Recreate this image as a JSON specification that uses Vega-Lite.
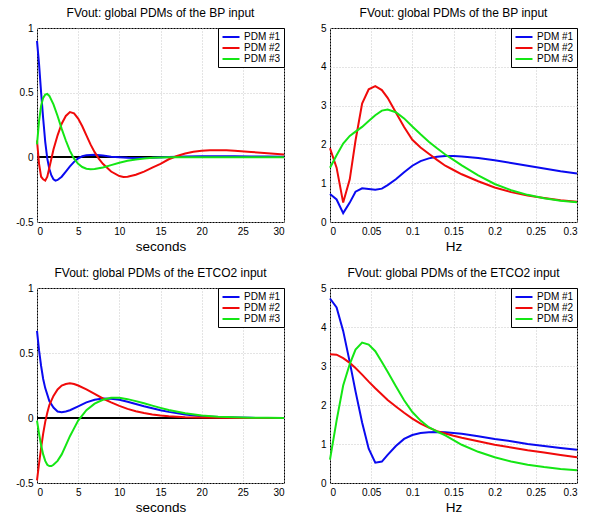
{
  "$schema": "https://vega.github.io/schema/vega-lite/v6.json",
  "padding": {"left": 15, "top": 6, "right": 4, "bottom": 0},
  "background": "white",
  "config": {
    "font": "Liberation Sans",
    "view": {"stroke": "black", "strokeWidth": 1},
    "axis": {"domain": false, "ticks": false, "grid": true, "gridColor": "#c8c8c8", "gridDash": [1, 2], "labelFont": "Liberation Sans", "labelFontSize": 10, "labelColor": "black", "labelPadding": 4, "titleFont": "Liberation Sans", "titleFontSize": 13.5, "titleFontWeight": "normal", "titleColor": "black", "titlePadding": 3},
    "title": {"font": "Liberation Sans", "fontSize": 12, "fontWeight": "normal", "color": "black", "offset": 3},
    "legend": {"title": null, "orient": "top-right", "offset": 0, "strokeColor": "black", "fillColor": "white", "padding": 3, "symbolType": "M-1.7,0L1.7,0", "symbolStrokeWidth": 2, "symbolSize": 100, "symbolOffset": 4, "labelFont": "Liberation Sans", "labelFontSize": 10, "labelColor": "black", "rowPadding": 0, "labelOffset": 7}
  },
  "datasets": {
    "bpT": [
      {"s":"PDM #1","x":0,"y":0.9},{"s":"PDM #1","x":0.25,"y":0.72},{"s":"PDM #1","x":0.5,"y":0.5},{"s":"PDM #1","x":0.75,"y":0.3},{"s":"PDM #1","x":1,"y":0.12},{"s":"PDM #1","x":1.25,"y":-0.01},{"s":"PDM #1","x":1.5,"y":-0.09},{"s":"PDM #1","x":1.75,"y":-0.14},{"s":"PDM #1","x":2,"y":-0.17},{"s":"PDM #1","x":2.25,"y":-0.18},{"s":"PDM #1","x":2.5,"y":-0.175},{"s":"PDM #1","x":3,"y":-0.15},{"s":"PDM #1","x":3.5,"y":-0.11},{"s":"PDM #1","x":4,"y":-0.07},{"s":"PDM #1","x":4.5,"y":-0.035},{"s":"PDM #1","x":5,"y":-0.008},{"s":"PDM #1","x":5.5,"y":0.008},{"s":"PDM #1","x":6,"y":0.017},{"s":"PDM #1","x":7,"y":0.02},{"s":"PDM #1","x":8,"y":0.015},{"s":"PDM #1","x":9,"y":0.005},{"s":"PDM #1","x":10,"y":0},{"s":"PDM #1","x":11,"y":-0.004},{"s":"PDM #1","x":12,"y":-0.005},{"s":"PDM #1","x":14,"y":-0.003},{"s":"PDM #1","x":16,"y":0.002},{"s":"PDM #1","x":18,"y":0.006},{"s":"PDM #1","x":20,"y":0.008},{"s":"PDM #1","x":22,"y":0.009},{"s":"PDM #1","x":24,"y":0.008},{"s":"PDM #1","x":26,"y":0.007},{"s":"PDM #1","x":28,"y":0.006},{"s":"PDM #1","x":30,"y":0.005},
      {"s":"PDM #2","x":0,"y":0.13},{"s":"PDM #2","x":0.25,"y":-0.05},{"s":"PDM #2","x":0.5,"y":-0.15},{"s":"PDM #2","x":0.75,"y":-0.17},{"s":"PDM #2","x":1,"y":-0.18},{"s":"PDM #2","x":1.25,"y":-0.15},{"s":"PDM #2","x":1.5,"y":-0.08},{"s":"PDM #2","x":2,"y":0.06},{"s":"PDM #2","x":2.5,"y":0.17},{"s":"PDM #2","x":3,"y":0.26},{"s":"PDM #2","x":3.5,"y":0.32},{"s":"PDM #2","x":4,"y":0.35},{"s":"PDM #2","x":4.5,"y":0.34},{"s":"PDM #2","x":5,"y":0.3},{"s":"PDM #2","x":5.5,"y":0.24},{"s":"PDM #2","x":6,"y":0.17},{"s":"PDM #2","x":6.5,"y":0.1},{"s":"PDM #2","x":7,"y":0.04},{"s":"PDM #2","x":7.5,"y":-0.01},{"s":"PDM #2","x":8,"y":-0.05},{"s":"PDM #2","x":9,"y":-0.11},{"s":"PDM #2","x":10,"y":-0.145},{"s":"PDM #2","x":10.5,"y":-0.152},{"s":"PDM #2","x":11,"y":-0.15},{"s":"PDM #2","x":12,"y":-0.135},{"s":"PDM #2","x":13,"y":-0.11},{"s":"PDM #2","x":14,"y":-0.08},{"s":"PDM #2","x":15,"y":-0.05},{"s":"PDM #2","x":16,"y":-0.015},{"s":"PDM #2","x":17,"y":0.01},{"s":"PDM #2","x":18,"y":0.03},{"s":"PDM #2","x":19,"y":0.043},{"s":"PDM #2","x":20,"y":0.05},{"s":"PDM #2","x":21,"y":0.054},{"s":"PDM #2","x":22,"y":0.055},{"s":"PDM #2","x":23,"y":0.054},{"s":"PDM #2","x":24,"y":0.05},{"s":"PDM #2","x":26,"y":0.042},{"s":"PDM #2","x":28,"y":0.032},{"s":"PDM #2","x":30,"y":0.022},
      {"s":"PDM #3","x":0,"y":0.1},{"s":"PDM #3","x":0.25,"y":0.28},{"s":"PDM #3","x":0.5,"y":0.4},{"s":"PDM #3","x":0.75,"y":0.46},{"s":"PDM #3","x":1,"y":0.485},{"s":"PDM #3","x":1.25,"y":0.49},{"s":"PDM #3","x":1.5,"y":0.475},{"s":"PDM #3","x":2,"y":0.41},{"s":"PDM #3","x":2.5,"y":0.32},{"s":"PDM #3","x":3,"y":0.22},{"s":"PDM #3","x":3.5,"y":0.13},{"s":"PDM #3","x":4,"y":0.05},{"s":"PDM #3","x":4.5,"y":-0.01},{"s":"PDM #3","x":5,"y":-0.05},{"s":"PDM #3","x":5.5,"y":-0.075},{"s":"PDM #3","x":6,"y":-0.088},{"s":"PDM #3","x":6.5,"y":-0.092},{"s":"PDM #3","x":7,"y":-0.09},{"s":"PDM #3","x":8,"y":-0.078},{"s":"PDM #3","x":9,"y":-0.06},{"s":"PDM #3","x":10,"y":-0.042},{"s":"PDM #3","x":11,"y":-0.027},{"s":"PDM #3","x":12,"y":-0.016},{"s":"PDM #3","x":13,"y":-0.009},{"s":"PDM #3","x":14,"y":-0.004},{"s":"PDM #3","x":15,"y":-0.001},{"s":"PDM #3","x":16,"y":0},{"s":"PDM #3","x":20,"y":0},{"s":"PDM #3","x":25,"y":0},{"s":"PDM #3","x":30,"y":0}
    ],
    "bpF": [
      {"s":"PDM #1","x":0,"y":0.72},{"s":"PDM #1","x":0.008,"y":0.58},{"s":"PDM #1","x":0.016,"y":0.23},{"s":"PDM #1","x":0.024,"y":0.5},{"s":"PDM #1","x":0.031,"y":0.78},{"s":"PDM #1","x":0.039,"y":0.87},{"s":"PDM #1","x":0.047,"y":0.85},{"s":"PDM #1","x":0.055,"y":0.83},{"s":"PDM #1","x":0.063,"y":0.86},{"s":"PDM #1","x":0.07,"y":0.95},{"s":"PDM #1","x":0.08,"y":1.1},{"s":"PDM #1","x":0.09,"y":1.28},{"s":"PDM #1","x":0.1,"y":1.45},{"s":"PDM #1","x":0.11,"y":1.57},{"s":"PDM #1","x":0.12,"y":1.64},{"s":"PDM #1","x":0.13,"y":1.68},{"s":"PDM #1","x":0.14,"y":1.7},{"s":"PDM #1","x":0.15,"y":1.7},{"s":"PDM #1","x":0.16,"y":1.69},{"s":"PDM #1","x":0.18,"y":1.65},{"s":"PDM #1","x":0.2,"y":1.59},{"s":"PDM #1","x":0.22,"y":1.52},{"s":"PDM #1","x":0.24,"y":1.45},{"s":"PDM #1","x":0.26,"y":1.38},{"s":"PDM #1","x":0.28,"y":1.31},{"s":"PDM #1","x":0.3,"y":1.25},
      {"s":"PDM #2","x":0,"y":1.9},{"s":"PDM #2","x":0.008,"y":1.4},{"s":"PDM #2","x":0.016,"y":0.5},{"s":"PDM #2","x":0.024,"y":1.1},{"s":"PDM #2","x":0.031,"y":2.1},{"s":"PDM #2","x":0.039,"y":3.05},{"s":"PDM #2","x":0.047,"y":3.42},{"s":"PDM #2","x":0.055,"y":3.5},{"s":"PDM #2","x":0.063,"y":3.4},{"s":"PDM #2","x":0.07,"y":3.2},{"s":"PDM #2","x":0.08,"y":2.82},{"s":"PDM #2","x":0.09,"y":2.45},{"s":"PDM #2","x":0.1,"y":2.12},{"s":"PDM #2","x":0.11,"y":1.92},{"s":"PDM #2","x":0.12,"y":1.76},{"s":"PDM #2","x":0.13,"y":1.6},{"s":"PDM #2","x":0.14,"y":1.45},{"s":"PDM #2","x":0.15,"y":1.34},{"s":"PDM #2","x":0.16,"y":1.23},{"s":"PDM #2","x":0.18,"y":1.05},{"s":"PDM #2","x":0.2,"y":0.89},{"s":"PDM #2","x":0.22,"y":0.77},{"s":"PDM #2","x":0.24,"y":0.68},{"s":"PDM #2","x":0.26,"y":0.62},{"s":"PDM #2","x":0.28,"y":0.56},{"s":"PDM #2","x":0.3,"y":0.52},
      {"s":"PDM #3","x":0,"y":1.4},{"s":"PDM #3","x":0.008,"y":1.72},{"s":"PDM #3","x":0.016,"y":2.02},{"s":"PDM #3","x":0.024,"y":2.22},{"s":"PDM #3","x":0.031,"y":2.33},{"s":"PDM #3","x":0.039,"y":2.45},{"s":"PDM #3","x":0.047,"y":2.6},{"s":"PDM #3","x":0.055,"y":2.75},{"s":"PDM #3","x":0.063,"y":2.87},{"s":"PDM #3","x":0.07,"y":2.9},{"s":"PDM #3","x":0.08,"y":2.83},{"s":"PDM #3","x":0.09,"y":2.67},{"s":"PDM #3","x":0.1,"y":2.46},{"s":"PDM #3","x":0.11,"y":2.26},{"s":"PDM #3","x":0.12,"y":2.07},{"s":"PDM #3","x":0.13,"y":1.9},{"s":"PDM #3","x":0.14,"y":1.74},{"s":"PDM #3","x":0.15,"y":1.6},{"s":"PDM #3","x":0.16,"y":1.46},{"s":"PDM #3","x":0.18,"y":1.2},{"s":"PDM #3","x":0.2,"y":0.98},{"s":"PDM #3","x":0.22,"y":0.82},{"s":"PDM #3","x":0.24,"y":0.7},{"s":"PDM #3","x":0.26,"y":0.61},{"s":"PDM #3","x":0.28,"y":0.55},{"s":"PDM #3","x":0.3,"y":0.51}
    ],
    "coT": [
      {"s":"PDM #1","x":0,"y":0.67},{"s":"PDM #1","x":0.25,"y":0.52},{"s":"PDM #1","x":0.5,"y":0.4},{"s":"PDM #1","x":0.75,"y":0.3},{"s":"PDM #1","x":1,"y":0.23},{"s":"PDM #1","x":1.5,"y":0.13},{"s":"PDM #1","x":2,"y":0.08},{"s":"PDM #1","x":2.5,"y":0.05},{"s":"PDM #1","x":3,"y":0.045},{"s":"PDM #1","x":3.5,"y":0.05},{"s":"PDM #1","x":4,"y":0.06},{"s":"PDM #1","x":5,"y":0.09},{"s":"PDM #1","x":6,"y":0.12},{"s":"PDM #1","x":7,"y":0.14},{"s":"PDM #1","x":8,"y":0.15},{"s":"PDM #1","x":9,"y":0.148},{"s":"PDM #1","x":10,"y":0.14},{"s":"PDM #1","x":11,"y":0.125},{"s":"PDM #1","x":12,"y":0.108},{"s":"PDM #1","x":13,"y":0.09},{"s":"PDM #1","x":14,"y":0.075},{"s":"PDM #1","x":15,"y":0.06},{"s":"PDM #1","x":16,"y":0.047},{"s":"PDM #1","x":18,"y":0.027},{"s":"PDM #1","x":20,"y":0.014},{"s":"PDM #1","x":22,"y":0.007},{"s":"PDM #1","x":24,"y":0.003},{"s":"PDM #1","x":26,"y":0.001},{"s":"PDM #1","x":28,"y":0},{"s":"PDM #1","x":30,"y":0},
      {"s":"PDM #2","x":0,"y":-0.48},{"s":"PDM #2","x":0.25,"y":-0.35},{"s":"PDM #2","x":0.5,"y":-0.23},{"s":"PDM #2","x":0.75,"y":-0.12},{"s":"PDM #2","x":1,"y":-0.03},{"s":"PDM #2","x":1.25,"y":0.04},{"s":"PDM #2","x":1.5,"y":0.1},{"s":"PDM #2","x":2,"y":0.17},{"s":"PDM #2","x":2.5,"y":0.22},{"s":"PDM #2","x":3,"y":0.25},{"s":"PDM #2","x":3.5,"y":0.262},{"s":"PDM #2","x":4,"y":0.267},{"s":"PDM #2","x":4.5,"y":0.262},{"s":"PDM #2","x":5,"y":0.25},{"s":"PDM #2","x":6,"y":0.22},{"s":"PDM #2","x":7,"y":0.185},{"s":"PDM #2","x":8,"y":0.15},{"s":"PDM #2","x":9,"y":0.12},{"s":"PDM #2","x":10,"y":0.093},{"s":"PDM #2","x":11,"y":0.07},{"s":"PDM #2","x":12,"y":0.052},{"s":"PDM #2","x":13,"y":0.038},{"s":"PDM #2","x":14,"y":0.027},{"s":"PDM #2","x":15,"y":0.019},{"s":"PDM #2","x":16,"y":0.013},{"s":"PDM #2","x":18,"y":0.006},{"s":"PDM #2","x":20,"y":0.003},{"s":"PDM #2","x":22,"y":0.001},{"s":"PDM #2","x":25,"y":0},{"s":"PDM #2","x":30,"y":0},
      {"s":"PDM #3","x":0,"y":-0.02},{"s":"PDM #3","x":0.25,"y":-0.12},{"s":"PDM #3","x":0.5,"y":-0.21},{"s":"PDM #3","x":0.75,"y":-0.28},{"s":"PDM #3","x":1,"y":-0.33},{"s":"PDM #3","x":1.25,"y":-0.36},{"s":"PDM #3","x":1.5,"y":-0.37},{"s":"PDM #3","x":1.75,"y":-0.37},{"s":"PDM #3","x":2,"y":-0.36},{"s":"PDM #3","x":2.5,"y":-0.33},{"s":"PDM #3","x":3,"y":-0.28},{"s":"PDM #3","x":3.5,"y":-0.21},{"s":"PDM #3","x":4,"y":-0.14},{"s":"PDM #3","x":4.5,"y":-0.08},{"s":"PDM #3","x":5,"y":-0.02},{"s":"PDM #3","x":5.5,"y":0.02},{"s":"PDM #3","x":6,"y":0.06},{"s":"PDM #3","x":7,"y":0.11},{"s":"PDM #3","x":8,"y":0.14},{"s":"PDM #3","x":9,"y":0.155},{"s":"PDM #3","x":10,"y":0.155},{"s":"PDM #3","x":11,"y":0.145},{"s":"PDM #3","x":12,"y":0.13},{"s":"PDM #3","x":13,"y":0.113},{"s":"PDM #3","x":14,"y":0.095},{"s":"PDM #3","x":15,"y":0.078},{"s":"PDM #3","x":16,"y":0.062},{"s":"PDM #3","x":18,"y":0.037},{"s":"PDM #3","x":20,"y":0.02},{"s":"PDM #3","x":22,"y":0.01},{"s":"PDM #3","x":24,"y":0.005},{"s":"PDM #3","x":26,"y":0.002},{"s":"PDM #3","x":28,"y":0.001},{"s":"PDM #3","x":30,"y":0}
    ],
    "coF": [
      {"s":"PDM #1","x":0,"y":4.73},{"s":"PDM #1","x":0.008,"y":4.5},{"s":"PDM #1","x":0.016,"y":3.9},{"s":"PDM #1","x":0.024,"y":3.1},{"s":"PDM #1","x":0.031,"y":2.35},{"s":"PDM #1","x":0.039,"y":1.55},{"s":"PDM #1","x":0.047,"y":0.88},{"s":"PDM #1","x":0.055,"y":0.52},{"s":"PDM #1","x":0.063,"y":0.55},{"s":"PDM #1","x":0.07,"y":0.72},{"s":"PDM #1","x":0.08,"y":0.95},{"s":"PDM #1","x":0.09,"y":1.13},{"s":"PDM #1","x":0.1,"y":1.23},{"s":"PDM #1","x":0.11,"y":1.28},{"s":"PDM #1","x":0.12,"y":1.3},{"s":"PDM #1","x":0.13,"y":1.31},{"s":"PDM #1","x":0.14,"y":1.3},{"s":"PDM #1","x":0.15,"y":1.28},{"s":"PDM #1","x":0.16,"y":1.26},{"s":"PDM #1","x":0.18,"y":1.2},{"s":"PDM #1","x":0.2,"y":1.13},{"s":"PDM #1","x":0.22,"y":1.07},{"s":"PDM #1","x":0.24,"y":1.0},{"s":"PDM #1","x":0.26,"y":0.95},{"s":"PDM #1","x":0.28,"y":0.9},{"s":"PDM #1","x":0.3,"y":0.85},
      {"s":"PDM #2","x":0,"y":3.3},{"s":"PDM #2","x":0.008,"y":3.29},{"s":"PDM #2","x":0.016,"y":3.2},{"s":"PDM #2","x":0.024,"y":3.08},{"s":"PDM #2","x":0.031,"y":2.95},{"s":"PDM #2","x":0.039,"y":2.78},{"s":"PDM #2","x":0.047,"y":2.6},{"s":"PDM #2","x":0.055,"y":2.43},{"s":"PDM #2","x":0.063,"y":2.27},{"s":"PDM #2","x":0.07,"y":2.13},{"s":"PDM #2","x":0.08,"y":1.96},{"s":"PDM #2","x":0.09,"y":1.8},{"s":"PDM #2","x":0.1,"y":1.65},{"s":"PDM #2","x":0.11,"y":1.52},{"s":"PDM #2","x":0.12,"y":1.42},{"s":"PDM #2","x":0.13,"y":1.33},{"s":"PDM #2","x":0.14,"y":1.27},{"s":"PDM #2","x":0.15,"y":1.21},{"s":"PDM #2","x":0.16,"y":1.16},{"s":"PDM #2","x":0.18,"y":1.07},{"s":"PDM #2","x":0.2,"y":0.98},{"s":"PDM #2","x":0.22,"y":0.91},{"s":"PDM #2","x":0.24,"y":0.84},{"s":"PDM #2","x":0.26,"y":0.78},{"s":"PDM #2","x":0.28,"y":0.72},{"s":"PDM #2","x":0.3,"y":0.66},
      {"s":"PDM #3","x":0,"y":0.6},{"s":"PDM #3","x":0.008,"y":1.6},{"s":"PDM #3","x":0.016,"y":2.5},{"s":"PDM #3","x":0.024,"y":3.05},{"s":"PDM #3","x":0.031,"y":3.42},{"s":"PDM #3","x":0.039,"y":3.6},{"s":"PDM #3","x":0.047,"y":3.55},{"s":"PDM #3","x":0.055,"y":3.38},{"s":"PDM #3","x":0.063,"y":3.1},{"s":"PDM #3","x":0.07,"y":2.85},{"s":"PDM #3","x":0.08,"y":2.48},{"s":"PDM #3","x":0.09,"y":2.12},{"s":"PDM #3","x":0.1,"y":1.82},{"s":"PDM #3","x":0.11,"y":1.6},{"s":"PDM #3","x":0.12,"y":1.43},{"s":"PDM #3","x":0.13,"y":1.32},{"s":"PDM #3","x":0.14,"y":1.22},{"s":"PDM #3","x":0.15,"y":1.1},{"s":"PDM #3","x":0.16,"y":0.98},{"s":"PDM #3","x":0.18,"y":0.8},{"s":"PDM #3","x":0.2,"y":0.66},{"s":"PDM #3","x":0.22,"y":0.55},{"s":"PDM #3","x":0.24,"y":0.47},{"s":"PDM #3","x":0.26,"y":0.41},{"s":"PDM #3","x":0.28,"y":0.36},{"s":"PDM #3","x":0.3,"y":0.33}
    ]
  },
  "vconcat": [
    {
      "hconcat": [
        {
          "width": 247, "height": 194,
          "title": "FVout: global PDMs of the BP input",
          "data": {"name": "bpT"},
          "layer": [
            {"mark": {"type": "rule", "color": "black", "strokeWidth": 1}, "encoding": {"y": {"datum": 0, "type": "quantitative", "scale": {"domain": [-0.5, 1], "nice": false}}}},
            {"mark": {"type": "line", "strokeWidth": 2}, "encoding": {
              "x": {"field": "x", "type": "quantitative", "scale": {"domain": [0, 30], "nice": false}, "axis": {"title": "seconds", "values": [0, 5, 10, 15, 20, 25, 30], "labelExpr": "'' + datum.value"}},
              "y": {"field": "y", "type": "quantitative", "scale": {"domain": [-0.5, 1], "nice": false}, "axis": {"title": null, "values": [-0.5, 0, 0.5, 1], "labelExpr": "'' + datum.value"}},
              "color": {"field": "s", "type": "nominal", "scale": {"domain": ["PDM #1", "PDM #2", "PDM #3"], "range": ["#0a0af0", "#f00a0a", "#14e614"]}}
            }}
          ]
        },
        {
          "width": 247, "height": 194,
          "title": "FVout: global PDMs of the BP input",
          "data": {"name": "bpF"},
          "mark": {"type": "line", "strokeWidth": 2},
          "encoding": {
            "x": {"field": "x", "type": "quantitative", "scale": {"domain": [0, 0.3], "nice": false}, "axis": {"title": "Hz", "values": [0, 0.05, 0.1, 0.15, 0.2, 0.25, 0.3], "labelExpr": "'' + datum.value"}},
            "y": {"field": "y", "type": "quantitative", "scale": {"domain": [0, 5], "nice": false}, "axis": {"title": null, "values": [0, 1, 2, 3, 4, 5], "labelExpr": "'' + datum.value"}},
            "color": {"field": "s", "type": "nominal", "scale": {"domain": ["PDM #1", "PDM #2", "PDM #3"], "range": ["#0a0af0", "#f00a0a", "#14e614"]}}
          }
        }
      ],
      "spacing": 30,
      "resolve": {"scale": {"color": "independent"}, "legend": {"color": "independent"}}
    },
    {
      "hconcat": [
        {
          "width": 247, "height": 195,
          "title": "FVout: global PDMs of the ETCO2 input",
          "data": {"name": "coT"},
          "layer": [
            {"mark": {"type": "rule", "color": "black", "strokeWidth": 1}, "encoding": {"y": {"datum": 0, "type": "quantitative", "scale": {"domain": [-0.5, 1], "nice": false}}}},
            {"mark": {"type": "line", "strokeWidth": 2}, "encoding": {
              "x": {"field": "x", "type": "quantitative", "scale": {"domain": [0, 30], "nice": false}, "axis": {"title": "seconds", "values": [0, 5, 10, 15, 20, 25, 30], "labelExpr": "'' + datum.value"}},
              "y": {"field": "y", "type": "quantitative", "scale": {"domain": [-0.5, 1], "nice": false}, "axis": {"title": null, "values": [-0.5, 0, 0.5, 1], "labelExpr": "'' + datum.value"}},
              "color": {"field": "s", "type": "nominal", "scale": {"domain": ["PDM #1", "PDM #2", "PDM #3"], "range": ["#0a0af0", "#f00a0a", "#14e614"]}}
            }}
          ]
        },
        {
          "width": 247, "height": 195,
          "title": "FVout: global PDMs of the ETCO2 input",
          "data": {"name": "coF"},
          "mark": {"type": "line", "strokeWidth": 2},
          "encoding": {
            "x": {"field": "x", "type": "quantitative", "scale": {"domain": [0, 0.3], "nice": false}, "axis": {"title": "Hz", "values": [0, 0.05, 0.1, 0.15, 0.2, 0.25, 0.3], "labelExpr": "'' + datum.value"}},
            "y": {"field": "y", "type": "quantitative", "scale": {"domain": [0, 5], "nice": false}, "axis": {"title": null, "values": [0, 1, 2, 3, 4, 5], "labelExpr": "'' + datum.value"}},
            "color": {"field": "s", "type": "nominal", "scale": {"domain": ["PDM #1", "PDM #2", "PDM #3"], "range": ["#0a0af0", "#f00a0a", "#14e614"]}}
          }
        }
      ],
      "spacing": 30,
      "resolve": {"scale": {"color": "independent"}, "legend": {"color": "independent"}}
    }
  ],
  "spacing": 13
}
